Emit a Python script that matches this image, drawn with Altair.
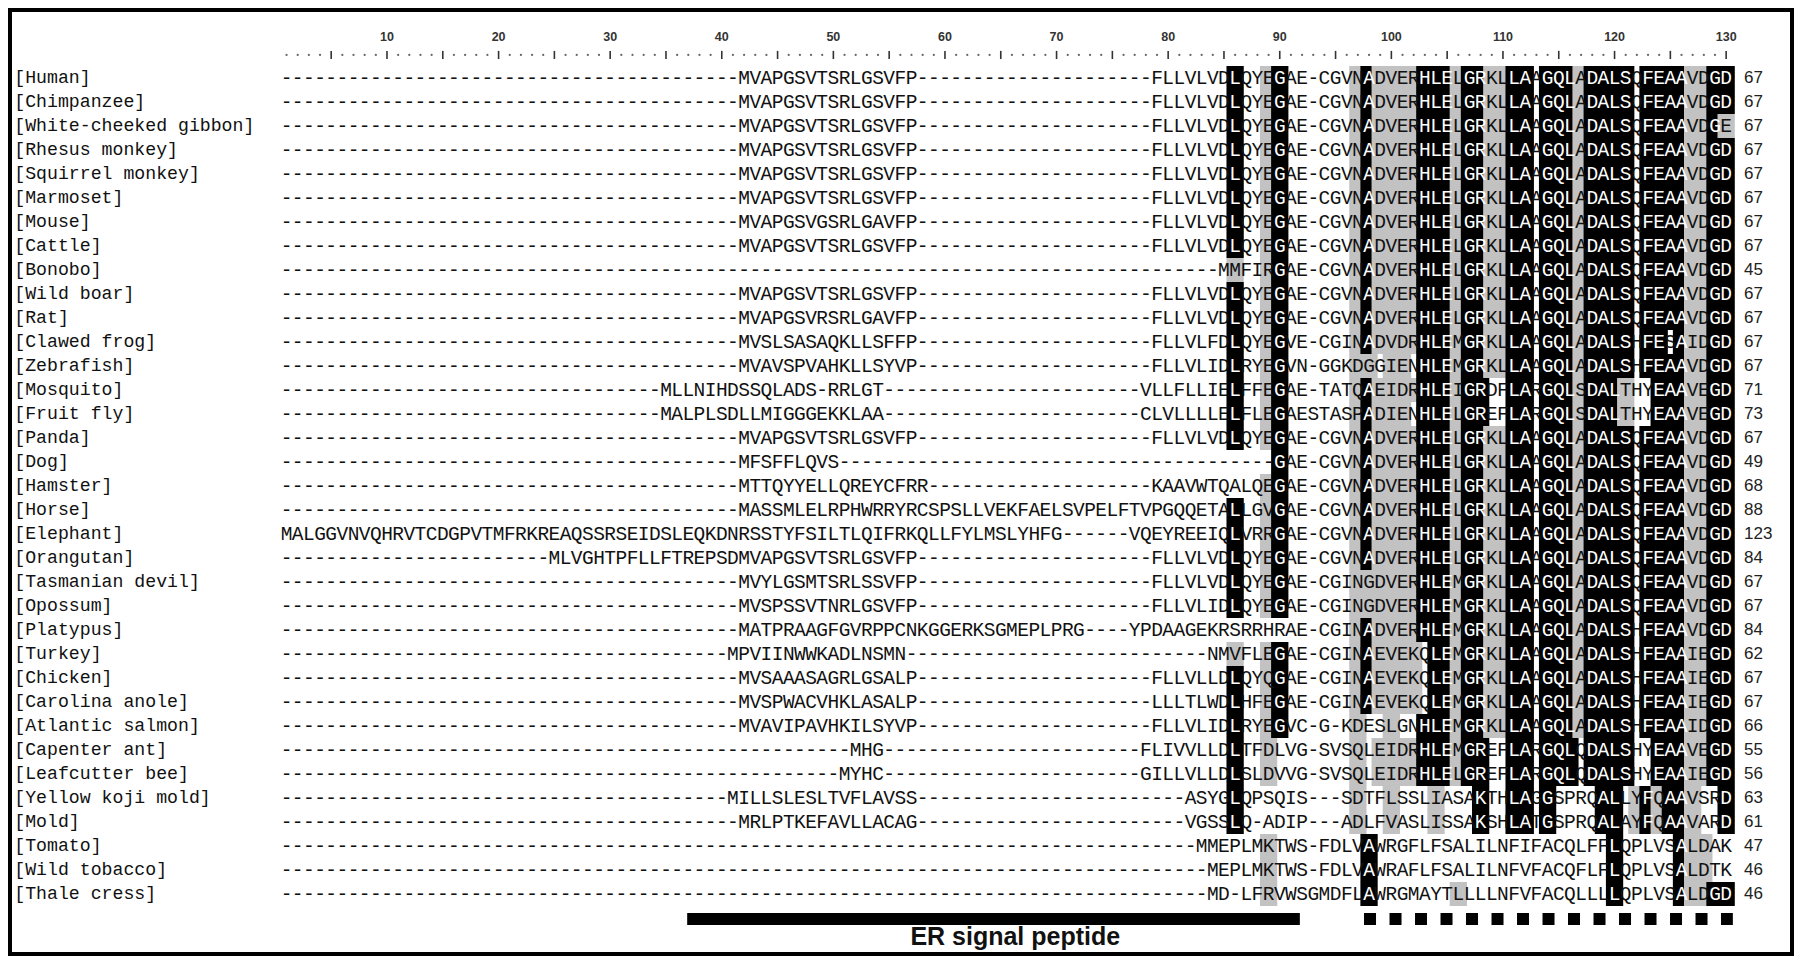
import altair as alt
import pandas as pd

def D(n):
    return "-" * n

LABELS = ["[Human]", "[Chimpanzee]", "[White-cheeked gibbon]", "[Rhesus monkey]",
          "[Squirrel monkey]", "[Marmoset]", "[Mouse]", "[Cattle]", "[Bonobo]",
          "[Wild boar]", "[Rat]", "[Clawed frog]", "[Zebrafish]", "[Mosquito]",
          "[Fruit fly]", "[Panda]", "[Dog]", "[Hamster]", "[Horse]", "[Elephant]",
          "[Orangutan]", "[Tasmanian devil]", "[Opossum]", "[Platypus]", "[Turkey]",
          "[Chicken]", "[Carolina anole]", "[Atlantic salmon]", "[Capenter ant]",
          "[Leafcutter bee]", "[Yellow koji mold]", "[Mold]", "[Tomato]",
          "[Wild tobacco]", "[Thale cress]"]

HR = "FLLVLVDLQYEGAE-CGVNADVERHLELGRKLLAAGQLADALSQFEAAVDGD"
SEQS = [
    D(41) + "MVAPGSVTSRLGSVFP" + D(21) + HR,
    D(41) + "MVAPGSVTSRLGSVFP" + D(21) + HR,
    D(41) + "MVAPGSVTSRLGSVFP" + D(21) + "FLLVLVDLQYEGAE-CGVNADVERHLELGRKLLAAGQLADALSQFEAAVDGE",
    D(41) + "MVAPGSVTSRLGSVFP" + D(21) + HR,
    D(41) + "MVAPGSVTSRLGSVFP" + D(21) + HR,
    D(41) + "MVAPGSVTSRLGSVFP" + D(21) + HR,
    D(41) + "MVAPGSVGSRLGAVFP" + D(21) + HR,
    D(41) + "MVAPGSVTSRLGSVFP" + D(21) + HR,
    D(84) + "MMFIRGAE-CGVNADVERHLELGRKLLAAGQLADALSQFEAAVDGD",
    D(41) + "MVAPGSVTSRLGSVFP" + D(21) + HR,
    D(41) + "MVAPGSVRSRLGAVFP" + D(21) + HR,
    D(41) + "MVSLSASAQKLLSFFP" + D(21) + "FLLVLFDLQYEGVE-CGINADVDRHLEMGRKLLAAGQLADALSHFESAIDGD",
    D(41) + "MVAVSPVAHKLLSYVP" + D(21) + "FLLVLIDLRYEGVN-GGKDGGIENHLEMGRKLLAAGQLADALSHFEAAVDGD",
    D(34) + "MLLNIHDSSQLADS-RRLGT" + D(23) + "VLLFLLIELFFEGAE-TATQAEIDRHLEIGRDFLARGQLSDALTHYEAAVEGD",
    D(34) + "MALPLSDLLMIGGGEKKLAA" + D(23) + "CLVLLLLELFLEGAESTASPADIENHLELGREFLARGQLSDALTHYEAAVEGD",
    D(41) + "MVAPGSVTSRLGSVFP" + D(21) + HR,
    D(41) + "MFSFFLQVS" + D(39) + "GAE-CGVNADVERHLELGRKLLAAGQLADALSQFEAAVDGD",
    D(41) + "MTTQYYELLQREYCFRR" + D(20) + "KAAVWTQALQEGAE-CGVNADVERHLELGRKLLAAGQLADALSQFEAAVDGD",
    D(41) + "MASSMLELRPHWRRYRCSPSLLVEKFAELSVPELFTVPGQQETALLGVGAE-CGVNADVERHLELGRKLLAAGQLADALSQFEAAVDGD",
    "MALGGVNVQHRVTCDGPVTMFRKREAQSSRSEIDSLEQKDNRSSTYFSILTLQIFRKQLLFYLMSLYHFG" + D(6)
    + "VQEYREEIQLVRRGAE-CGVNADVERHLELGRKLLAAGQLADALSQFEAAVDGD",
    D(24) + "MLVGHTPFLLFTREPSDMVAPGSVTSRLGSVFP" + D(21) + HR,
    D(41) + "MVYLGSMTSRLSSVFP" + D(21) + "FLLVLVDLQYEGAE-CGINGDVERHLEMGRKLLAAGQLADALSQFEAAVDGD",
    D(41) + "MVSPSSVTNRLGSVFP" + D(21) + "FLLVLIDLQYEGAE-CGINGDVERHLEMGRKLLAAGQLADALSQFEAAVDGD",
    D(41) + "MATPRAAGFGVRPPCNKGGERKSGMEPLPRG" + D(4) + "YPDAAGEKRSRRHRAE-CGINADVERHLEMGRKLLAAGQLADALSHFEAAVDGD",
    D(40) + "MPVIINWWKADLNSMN" + D(27) + "NMVFLEGAE-CGINAEVEKQLEMGRKLLAAGQLADALSHFEAAIEGD",
    D(41) + "MVSAAASAGRLGSALP" + D(21) + "FLLVLLDLQYQGAE-CGINAEVEKQLEMGRKLLAAGQLADALSHFEAAIEGD",
    D(41) + "MVSPWACVHKLASALP" + D(21) + "LLLTLWDLHFEGAE-CGINAEVEKQLEMGRKLLAAGQLADALSHFEAAIEGD",
    D(41) + "MVAVIPAVHKILSYVP" + D(21) + "FLLVLIDLRYEGVC-G-KDESLGNHLEMGRKLLAAGQLADALSHFEAAIDGD",
    D(51) + "MHG" + D(23) + "FLIVVLLDLTFDLVG-SVSQLEIDRHLEMGREFLARGQLQDALSHYEAAVEGD",
    D(50) + "MYHC" + D(23) + "GILLVLLDLSLDVVG-SVSQLEIDRHLELGREFLARGQLQDALSHYEAAIEGD",
    D(40) + "MILLSLESLTVFLAVSS" + D(24) + "ASYGLQPSQIS---SDTFLSSLIASAKTHLAGGSPRQALLYFQAAVSRD",
    D(41) + "MRLPTKEFAVLLACAG" + D(24) + "VGSSLQ-ADIP---ADLFVASLISSAKSHLATGSPRQALAYFQAAVARD",
    D(82) + "MMEPLMKTWS-FDLVAWRGFLFSALILNFIFACQLFFLQPLVSALDAK",
    D(83) + "MEPLMKTWS-FDLVAWRAFLFSALILNFVFACQFLFLQPLVSALDTK",
    D(83) + "MD-LFRVWSGMDFLAWRGMAYTLLLLNFVFACQLLLLQPLVSALDGD",
]

LENGTHS = [67, 67, 67, 67, 67, 67, 67, 67, 45, 67, 67, 67, 67, 71, 73, 67, 49, 68, 88,
           123, 84, 67, 67, 84, 62, 67, 67, 66, 55, 56, 63, 61, 47, 46, 46]

# shading: column -> residues drawn on black / on grey
BLACK = {86: "L", 90: "G", 98: "A", 103: "H", 104: "L", 105: "E", 107: "G", 108: "RK",
         111: "L", 112: "A", 114: "G", 115: "Q", 116: "L", 118: "D", 119: "A", 120: "L",
         121: "S", 123: "F", 124: "E", 125: "A", 126: "A", 129: "G", 130: "D"}
GRAY = {86: "MV", 89: "EDQRVK", 97: "NDQP", 98: "G", 99: "DE", 100: "VIL", 101: "ED",
        102: "RK", 104: "I", 106: "LMI", 109: "K", 110: "L", 117: "AS", 121: "T",
        122: "Y", 124: "Q", 127: "VIL", 128: "DE", 130: "E"}

N_COLS = 130
TICKS = list(range(10, N_COLS + 1, 10))
BAR_SOLID = (36.9, 91.8)
BAR_DASHED = (97.55, 130.6)
BAR_LABEL = "ER signal peptide"

# geometry (column / row units)
X_DOM = [-23.96, 136.08]
Y_DOM = [-2.9167, 36.583]
LABEL_X = -23.4
NUM_X = 131.6
TICKNUM_Y = -1.71
RULER_Y = -0.96
BAR_Y = 35.04
BAR_TEXT_Y = 35.78
BAR_TEXT_X = 66.3
HALF_BOX = 0.775

cells = []
for r, seq in enumerate(SEQS):
    for i, ch in enumerate(seq):
        c = i + 1
        shade = 0
        if ch in BLACK.get(c, ""):
            shade = 2
        elif ch in GRAY.get(c, ""):
            shade = 1
        cells.append(dict(r=r, c=c, x0=c - HALF_BOX, x1=c + HALF_BOX, y0=r - 0.5, y1=r + 0.5,
                          ch=ch, shade=shade))
cells = pd.DataFrame(cells).sort_values(["c", "r"]).reset_index(drop=True)
cells["order"] = range(len(cells))

xs = alt.Scale(domain=X_DOM, nice=False, zero=False)
ys = alt.Scale(domain=Y_DOM, nice=False, zero=False, reverse=True)

SEQ_FONT = "Liberation Mono"

rects = alt.Chart(cells).transform_filter("datum.shade > 0").mark_rect().encode(
    x=alt.X("x0:Q", scale=xs, axis=None),
    x2="x1:Q",
    y=alt.Y("y0:Q", scale=ys, axis=None),
    y2="y1:Q",
    color=alt.Color("shade:O", scale=alt.Scale(domain=[1, 2], range=["#c2c2c2", "#000000"]),
                    legend=None),
    order=alt.Order("order:Q"),
)

letters = alt.Chart(cells).mark_text(font=SEQ_FONT, fontSize=19.5, align="center",
                                     baseline="middle").encode(
    x=alt.X("c:Q", scale=xs, axis=None),
    y=alt.Y("r:Q", scale=ys, axis=None),
    text="ch:N",
    color=alt.condition("datum.shade == 2", alt.value("#ffffff"), alt.value("#111111")),
)

lab_df = pd.DataFrame({"name": LABELS, "r": list(range(len(LABELS))), "x": LABEL_X})
labels = alt.Chart(lab_df).mark_text(font=SEQ_FONT, fontSize=18.2, align="left",
                                     baseline="middle", color="#111111").encode(
    x=alt.X("x:Q", scale=xs, axis=None), y=alt.Y("r:Q", scale=ys, axis=None), text="name:N")

num_df = pd.DataFrame({"n": [str(v) for v in LENGTHS], "r": list(range(len(LENGTHS))), "x": NUM_X})
nums = alt.Chart(num_df).mark_text(font="Liberation Sans", fontSize=17, align="left",
                                   baseline="middle", color="#222222").encode(
    x=alt.X("x:Q", scale=xs, axis=None), y=alt.Y("r:Q", scale=ys, axis=None), text="n:N")

ruler_df = pd.DataFrame({"c": list(range(1, N_COLS + 1))})
ruler_df["y"] = RULER_Y
ruler_df["y0"] = RULER_Y - 0.17
ruler_df["y1"] = RULER_Y + 0.17
dots = alt.Chart(ruler_df).transform_filter("datum.c % 5 != 0").mark_circle(
    size=5, color="#666666", opacity=1).encode(
    x=alt.X("c:Q", scale=xs, axis=None), y=alt.Y("y:Q", scale=ys, axis=None))
bars = alt.Chart(ruler_df).transform_filter("datum.c % 5 == 0").mark_rule(
    color="#333333", strokeWidth=1.6).encode(
    x=alt.X("c:Q", scale=xs, axis=None), y=alt.Y("y0:Q", scale=ys, axis=None), y2="y1:Q")

tick_df = pd.DataFrame({"c": TICKS, "t": [str(t) for t in TICKS], "y": TICKNUM_Y})
ticknums = alt.Chart(tick_df).mark_text(font="Liberation Sans", fontSize=12.5, fontWeight="bold",
                                        align="center", baseline="middle", color="#333333").encode(
    x=alt.X("c:Q", scale=xs, axis=None), y=alt.Y("y:Q", scale=ys, axis=None), text="t:N")

solid_df = pd.DataFrame({"a": [BAR_SOLID[0]], "b": [BAR_SOLID[1]], "y": [BAR_Y]})
solid = alt.Chart(solid_df).mark_rule(color="black", strokeWidth=12, strokeCap="butt").encode(
    x=alt.X("a:Q", scale=xs, axis=None), x2="b:Q", y=alt.Y("y:Q", scale=ys, axis=None))
dash_df = pd.DataFrame({"a": [BAR_DASHED[0]], "b": [BAR_DASHED[1]], "y": [BAR_Y]})
dashed = alt.Chart(dash_df).mark_rule(color="black", strokeWidth=12, strokeCap="butt",
                                      strokeDash=[12, 13.5]).encode(
    x=alt.X("a:Q", scale=xs, axis=None), x2="b:Q", y=alt.Y("y:Q", scale=ys, axis=None))

bt_df = pd.DataFrame({"t": [BAR_LABEL], "x": [BAR_TEXT_X], "y": [BAR_TEXT_Y]})
bartext = alt.Chart(bt_df).mark_text(font="Liberation Sans", fontSize=25, fontWeight="bold",
                                     align="center", baseline="middle", color="#111111").encode(
    x=alt.X("x:Q", scale=xs, axis=None), y=alt.Y("y:Q", scale=ys, axis=None), text="t:N")

chart = alt.layer(rects, letters, labels, nums, dots, bars, ticknums, solid, dashed, bartext).properties(
    width=1786, height=948, padding=0, autosize="none", background="white"
).configure_view(stroke="black", strokeWidth=8)

chart.save("out.html", embed_options={"renderer": "svg", "actions": False})
